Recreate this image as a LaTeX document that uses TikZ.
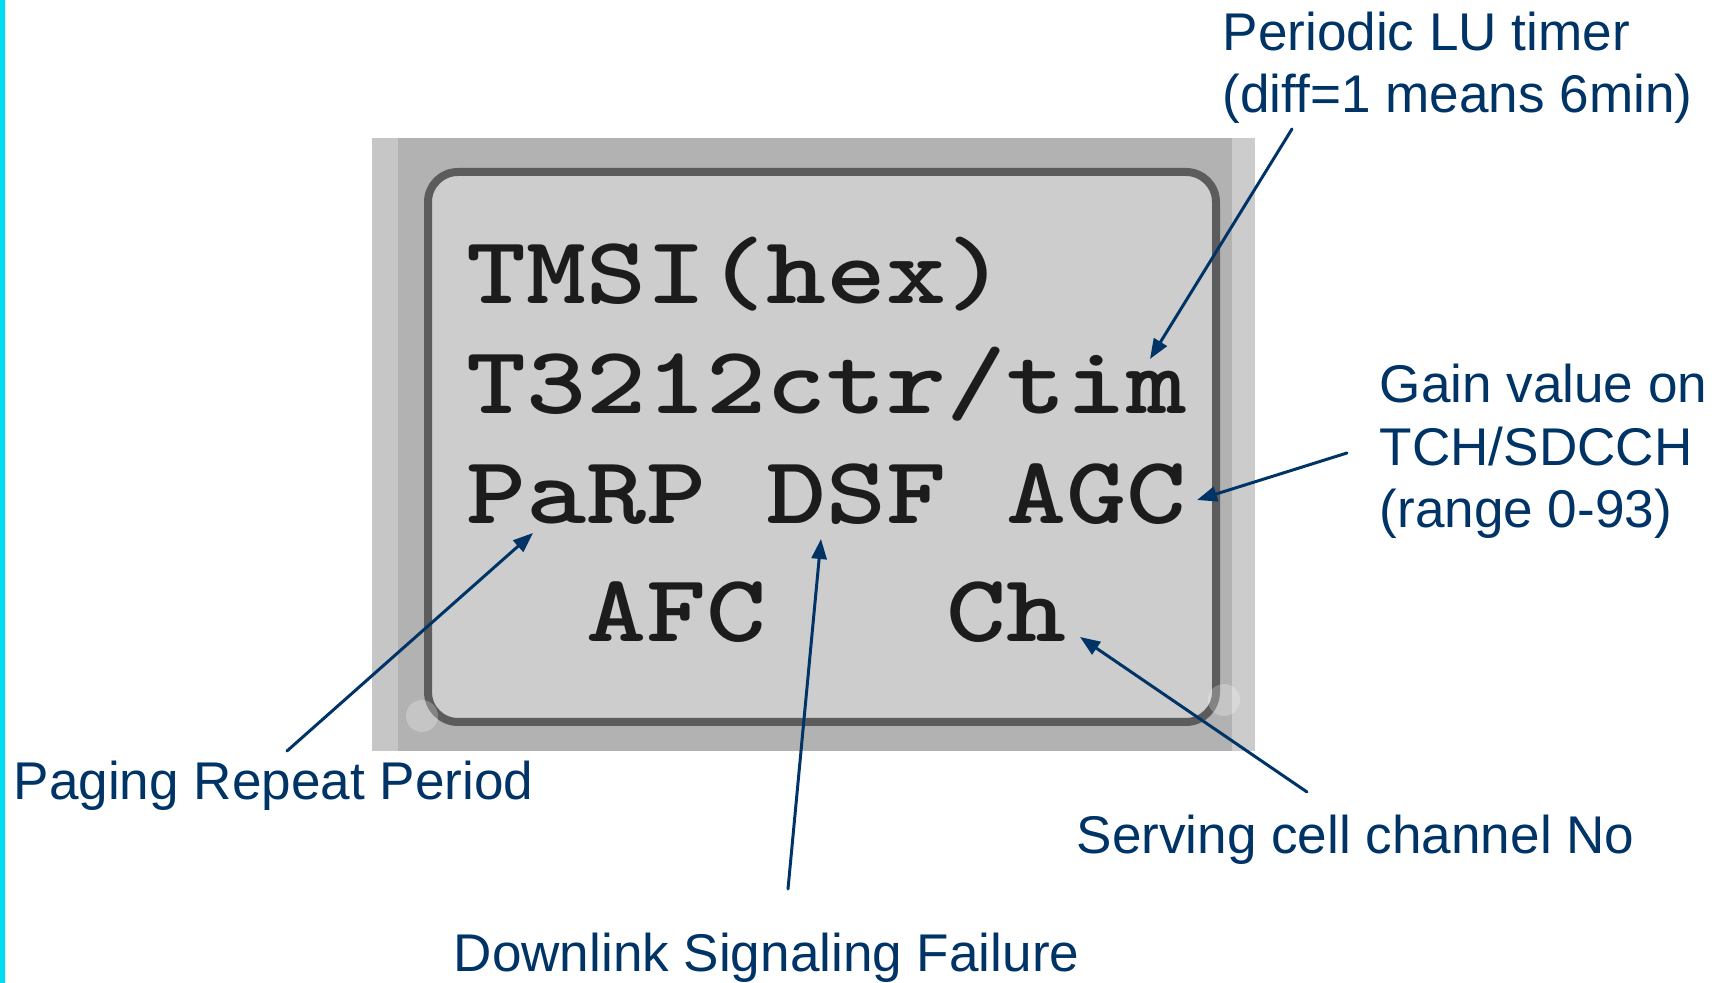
\documentclass[tikz,border=0pt]{standalone}
\usepackage{fontspec}
\setmainfont{Liberation Sans}
\usepackage{xcolor}
\usepackage{tikz}
\usetikzlibrary{arrows.meta}
\definecolor{labelBlue}{RGB}{0,51,102}
\definecolor{lcdFill}{RGB}{205,205,205}
\definecolor{lcdFrame}{RGB}{178,178,178}
\definecolor{lcdEdge}{RGB}{92,92,92}
\definecolor{lcdInk}{RGB}{28,28,28}
\definecolor{barCyan}{RGB}{0,220,240}

\tikzset{
  callout/.style={font=\fontsize{15.1}{17.9}\selectfont, text=labelBlue, inner sep=0pt, anchor=base west, align=left},
  lcdline/.style={font=\fontsize{27.3}{30}\selectfont\ttfamily\bfseries, text=lcdInk, inner sep=0pt, anchor=base west},
  pointer/.style={line width=0.85pt, labelBlue, -{Triangle[length=0.2cm, width=0.15cm]}}
}

\begin{document}
\begin{tikzpicture}[x=0.01cm, y=-0.01cm, style={line cap=round}]
  \useasboundingbox (0,0) rectangle (1717,983);
  % side bar
  \shade[top color=barCyan, middle color=blue, bottom color=barCyan] (0,0) rectangle (5,983);
  % the handset screen
  \fill[lcdFrame] (372,138) rectangle (1255,751);
  \fill[gray!45] (372,138) rectangle (398,751);
  \fill[gray!40] (1232,138) rectangle (1255,751);
  \filldraw[fill=lcdFill, draw=lcdEdge, line width=0.08cm, rounded corners=0.3cm] (428,172) rectangle (1216,722);
  \fill[white, opacity=0.25] (422,716) circle (0.16cm);
  \fill[white, opacity=0.25] (1224,700) circle (0.16cm);

  \node[lcdline] (tmsi) at (466,304) {\scalebox{1.19}[1]{TMSI(hex)}};
  \node[lcdline] (timer) at (466,414) {\scalebox{1.19}[1]{T3212ctr/tim}};
  \node[lcdline] (params) at (466,524) {\scalebox{1.19}[1]{PaRP DSF AGC}};
  \node[lcdline] (chan) at (466,642) {\scalebox{1.19}[1]{\hphantom{xx}AFC\hphantom{xxx}Ch}};

  % base anchor sits on the last line
  \node[callout] (lu) at (1222,113) {Periodic LU timer\\(diff=1 means 6min)};
  \node[callout] (gain) at (1379,528) {Gain value on\\TCH/SDCCH\\(range 0-93)};
  \node[callout] (paging) at (13,800) {Paging Repeat Period};
  \node[callout] (serving) at (1076,854) {Serving cell channel No};
  \node[callout] (dsf) at (453,972) {Downlink Signaling Failure};

  \coordinate (luTail) at (1292,129);   \coordinate (luTip) at (1150,359);
  \coordinate (gainTail) at (1347,453); \coordinate (gainTip) at (1197,500);
  \coordinate (pagTail) at (287,751);   \coordinate (pagTip) at (533,533);
  \coordinate (dsfTail) at (788,889);   \coordinate (dsfTip) at (821,539);
  \coordinate (chTail) at (1307,792);   \coordinate (chTip) at (1080,637);

  \draw[pointer] (luTail) -- (luTip);
  \draw[pointer] (gainTail) -- (gainTip);
  \draw[pointer] (pagTail) -- (pagTip);
  \draw[pointer] (dsfTail) -- (dsfTip);
  \draw[pointer] (chTail) -- (chTip);
\end{tikzpicture}
\end{document}
